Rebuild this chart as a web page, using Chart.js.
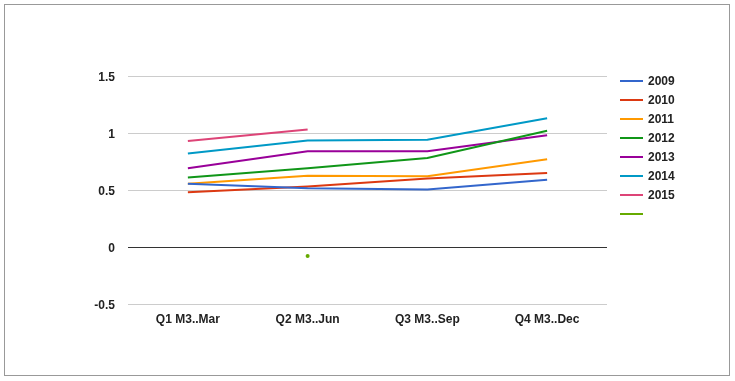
<!DOCTYPE html>
<html>
<head>
<meta charset="utf-8">
<script src="https://cdn.jsdelivr.net/npm/chart.js@4/dist/chart.umd.min.js"></script>
<style>
html,body{margin:0;padding:0;background:#fff;}
#wrap{width:735px;height:381px;position:relative;}
</style>
</head>
<body>
<div id="wrap"><canvas id="c" width="735" height="381"></canvas></div>
<script>
const categories = ['Q1 M3..Mar', 'Q2 M3..Jun', 'Q3 M3..Sep', 'Q4 M3..Dec'];
const seriesNames = ['2009', '2010', '2011', '2012', '2013', '2014', '2015', ''];
const s2009 = [0.555, 0.515, 0.505, 0.59];
const s2010 = [0.48, 0.53, 0.60, 0.65];
const s2011 = [0.555, 0.625, 0.62, 0.77];
const s2012 = [0.61, 0.69, 0.78, 1.02];
const s2013 = [0.69, 0.84, 0.84, 0.98];
const s2014 = [0.82, 0.935, 0.94, 1.13];
const s2015 = [0.93, 1.03, null, null];
const sBlank = [null, -0.08, null, null];
const yTicks = [-0.5, 0, 0.5, 1, 1.5];
const yTickLabels = ['-0.5', '0', '0.5', '1', '1.5'];
const colors = ['#3366cc', '#dc3912', '#ff9900', '#109618', '#990099', '#0099c6', '#dd4477', '#66aa00'];

const allSeries = [s2009, s2010, s2011, s2012, s2013, s2014, s2015, sBlank];
const datasets = allSeries.map((d, i) => ({
  label: seriesNames[i],
  data: d,
  borderColor: colors[i],
  backgroundColor: colors[i],
  borderWidth: 2,
  pointRadius: i === 7 ? 2 : 0,
  pointHoverRadius: 0,
  pointBorderWidth: 0,
  tension: 0,
  spanGaps: false,
  fill: false
}));

const FONT = '"Liberation Sans", Arial, sans-serif';

const framePlugin = {
  id: 'frame',
  afterDraw(chart) {
    const ctx = chart.ctx;
    ctx.save();
    ctx.strokeStyle = '#999999';
    ctx.lineWidth = 1;
    ctx.strokeRect(4.5, 4.5, 725, 371);
    // legend
    ctx.font = 'bold 12px ' + FONT;
    ctx.textBaseline = 'middle';
    ctx.textAlign = 'left';
    chart.data.datasets.forEach((ds, i) => {
      const y = 81 + i * 19;
      ctx.strokeStyle = ds.borderColor;
      ctx.lineWidth = 2;
      ctx.beginPath();
      ctx.moveTo(620, y);
      ctx.lineTo(643, y);
      ctx.stroke();
      ctx.fillStyle = '#222222';
      ctx.fillText(ds.label, 648, y + 1);
    });
    ctx.restore();
  }
};

new Chart(document.getElementById('c'), {
  type: 'line',
  data: { labels: categories, datasets: datasets },
  plugins: [framePlugin],
  options: {
    responsive: false,
    animation: false,
    layout: { padding: { left: 0, right: 128, top: 76, bottom: 0 } },
    plugins: { legend: { display: false }, tooltip: { enabled: false } },
    scales: {
      x: {
        offset: true,
        grid: { display: false, drawTicks: false },
        border: { display: false },
        ticks: { color: '#222222', font: { family: FONT, size: 12, weight: 'bold' }, padding: 8, maxRotation: 0 },
        afterFit(scale) { scale.height = 77; }
      },
      y: {
        min: -0.5,
        max: 1.5,
        afterBuildTicks(scale) { scale.ticks = yTicks.map(v => ({ value: v })); },
        grid: {
          drawTicks: false,
          color: (c) => (c.tick && c.tick.value === 0 ? '#333333' : '#cccccc'),
          lineWidth: 1
        },
        border: { display: false },
        ticks: {
          color: '#222222',
          font: { family: FONT, size: 12, weight: 'bold' },
          padding: 13,
          labelOffset: 2,
          callback: (v) => yTickLabels[yTicks.indexOf(v)]
        },
        afterFit(scale) { scale.width = 128; }
      }
    }
  }
});
</script>
</body>
</html>
